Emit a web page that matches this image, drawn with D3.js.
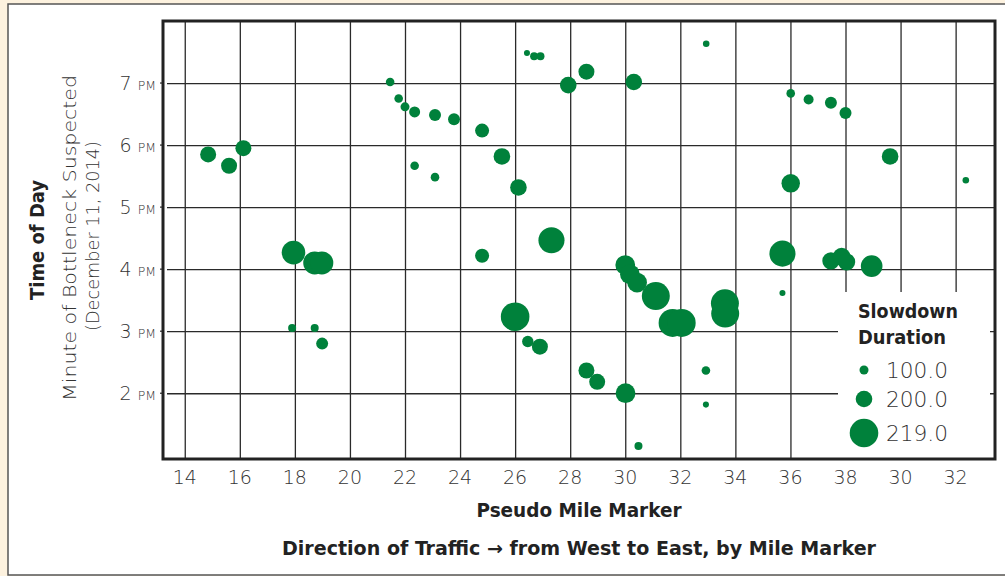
<!DOCTYPE html>
<html>
<head>
<meta charset="utf-8">
<script src="https://cdn.jsdelivr.net/npm/d3@7"></script>
<style>
  html, body { margin: 0; padding: 0; background: #fdf2df; }
  svg { display: block; }
</style>
</head>
<body>
<svg id="chart" width="1005" height="576"></svg>
<script>
// ---------- data ----------
const xTickValues = [14, 16, 18, 20, 22, 24, 26, 28, 30, 32, 34, 36, 38, 40, 42];
const xTickLabels = ["14", "16", "18", "20", "22", "24", "26", "28", "30", "32", "34", "36", "38", "30", "32"];
const yTickHours = [14, 15, 16, 17, 18, 19];
const yTickLabels = ["2", "3", "4", "5", "6", "7"];

// pseudo mile position (continuous along the axis), time of day, slowdown duration
const miles = [14.85, 15.61, 16.13, 21.46, 21.77, 22.00, 22.35, 23.09, 23.78, 24.80,
  25.52, 26.12, 22.35, 23.09, 26.43, 26.69, 26.92, 27.93, 28.59, 30.31,
  27.32, 32.94, 36.01, 36.66, 37.47, 38.00, 39.62, 36.01, 42.37, 17.95,
  18.72, 18.98, 17.90, 18.72, 18.99, 24.80, 26.00, 26.46, 26.90, 28.59,
  28.98, 30.01, 30.48, 30.00, 30.17, 30.43, 31.11, 31.72, 32.05, 33.62,
  33.63, 35.71, 37.47, 37.86, 38.04, 38.95, 35.71, 32.93, 32.93];
const times = ["17:51", "17:40", "17:57", "19:01", "18:45", "18:37", "18:32", "18:29", "18:25", "18:14",
  "17:49", "17:19", "17:40", "17:29", "19:29", "19:26", "19:26", "18:58", "19:11", "19:01",
  "16:28", "19:38", "18:50", "18:44", "18:41", "18:31", "17:49", "17:23", "17:26", "16:16",
  "16:06", "16:06", "15:03", "15:03", "14:48", "16:13", "15:14", "14:50", "14:45", "14:22",
  "14:11", "14:00", "13:09", "16:04", "15:55", "15:47", "15:34", "15:08", "15:08", "15:27",
  "15:17", "16:15", "16:08", "16:12", "16:07", "16:03", "15:37", "14:22", "13:49"];
const durations = [192, 192, 192, 95, 95, 100, 126, 139, 139, 166,
  200, 200, 95, 95, 61, 87, 87, 200, 192, 200,
  215, 68, 95, 113, 139, 139, 200, 203, 68, 211,
  210, 210, 87, 87, 139, 166, 219, 132, 192, 192,
  192, 205, 87, 205, 205, 205, 218, 218, 218, 218,
  218, 215, 201, 202, 201, 208, 61, 95, 61];

const legendValues = [100, 200, 219];
const legendLabels = ["100.0", "200.0", "219.0"];

// ---------- layout ----------
const W = 1005, H = 576;
const plot = { left: 163, right: 995, top: 21, bottom: 459 };
const green = "#00813b";
const gridColor = "#2a2a2a";
const lightFont = "'DejaVu Sans', Roboto, sans-serif";
const boldFont = "'DejaVu Sans Condensed', 'DejaVu Sans', sans-serif";

const svg = d3.select("#chart");

// background panel
svg.append("rect").attr("x", 0).attr("y", 0).attr("width", W).attr("height", H).attr("fill", "#fdf2df");
svg.append("rect").attr("x", 8).attr("y", 4).attr("width", W).attr("height", 571)
  .attr("fill", "#ffffff").attr("stroke", "#555").attr("stroke-width", 1.5);

const toHours = t => { const [h, m] = t.split(":").map(Number); return h + m / 60; };

const x = d3.scaleLinear().domain([13.21, 43.43]).range([plot.left, plot.right]);
const y = d3.scaleLinear().domain([12.94, 20.0]).range([plot.bottom, plot.top]);
const r = d3.scaleLinear().domain([100, 200, 219]).range([4.5, 8.3, 14.3]);

// gridlines via axes
const gx = svg.append("g").attr("transform", `translate(0,${plot.bottom})`)
  .call(d3.axisBottom(x).tickValues(xTickValues).tickSize(-(plot.bottom - plot.top)).tickFormat(""));
gx.select(".domain").remove();
gx.selectAll("line").attr("stroke", gridColor).attr("stroke-width", 1.3);

const gy = svg.append("g").attr("transform", `translate(${plot.left},0)`)
  .call(d3.axisLeft(y).tickValues(yTickHours).tickSize(-(plot.right - plot.left)).tickFormat(""));
gy.select(".domain").remove();
gy.selectAll("line").attr("stroke", gridColor).attr("stroke-width", 1.3).attr("x1", 4);

// small outward ticks on the left
svg.append("g").selectAll("line").data(yTickHours).join("line")
  .attr("x1", plot.left - 3).attr("x2", plot.left)
  .attr("y1", d => y(d)).attr("y2", d => y(d))
  .attr("stroke", gridColor).attr("stroke-width", 1.2);

// x tick labels
svg.append("g").selectAll("text").data(xTickValues).join("text")
  .attr("x", d => x(d)).attr("y", plot.bottom + 25)
  .attr("text-anchor", "middle")
  .attr("font-family", lightFont).attr("font-weight", 200)
  .attr("font-size", 19).attr("fill", "#333")
  .text((d, i) => xTickLabels[i]);

// y tick labels
const yl = svg.append("g").selectAll("text").data(yTickHours).join("text")
  .attr("x", 156).attr("y", d => y(d) + 7)
  .attr("text-anchor", "end")
  .attr("font-family", lightFont).attr("font-weight", 200)
  .attr("fill", "#333");
yl.append("tspan").attr("font-size", 19).text((d, i) => yTickLabels[i]);
yl.append("tspan").attr("font-size", 12.5).attr("dx", 6).text("PM");

// points
const pts = miles.map((m, i) => ({ m, t: toHours(times[i]), v: durations[i] }));
svg.append("g").selectAll("circle").data(pts).join("circle")
  .attr("cx", d => x(d.m)).attr("cy", d => y(d.t)).attr("r", d => r(d.v))
  .attr("fill", green);

// legend
const lg = svg.append("g");
lg.append("rect").attr("x", 838).attr("y", 292).attr("width", 152).attr("height", plot.bottom - 292)
  .attr("fill", "#fff");
lg.append("text").attr("x", 858).attr("y", 318)
  .attr("font-family", boldFont).attr("font-weight", "bold")
  .attr("font-size", 20).attr("fill", "#222")
  .attr("textLength", 100).attr("lengthAdjust", "spacingAndGlyphs").text("Slowdown");
lg.append("text").attr("x", 858).attr("y", 344)
  .attr("font-family", boldFont).attr("font-weight", "bold")
  .attr("font-size", 20).attr("fill", "#222")
  .attr("textLength", 88).attr("lengthAdjust", "spacingAndGlyphs").text("Duration");
const legendY = [370, 399, 433];
lg.selectAll("circle").data(legendValues).join("circle")
  .attr("cx", 864).attr("cy", (d, i) => legendY[i]).attr("r", d => r(d)).attr("fill", green);
lg.selectAll("text.lv").data(legendValues).join("text").attr("class", "lv")
  .attr("x", 886).attr("y", (d, i) => legendY[i] + 7.5)
  .attr("font-family", lightFont).attr("font-weight", 200)
  .attr("font-size", 20.5).attr("fill", "#333")
  .attr("textLength", 62).attr("lengthAdjust", "spacingAndGlyphs")
  .text((d, i) => legendLabels[i]);

// frame
svg.append("rect").attr("x", plot.left).attr("y", plot.top)
  .attr("width", plot.right - plot.left).attr("height", plot.bottom - plot.top)
  .attr("fill", "none").attr("stroke", "#222").attr("stroke-width", 3);

// axis titles
const cx = (plot.left + plot.right) / 2;
svg.append("text").attr("x", cx).attr("y", 517).attr("text-anchor", "middle")
  .attr("font-family", boldFont).attr("font-weight", "bold")
  .attr("font-size", 19).attr("fill", "#222")
  .attr("textLength", 205).attr("lengthAdjust", "spacingAndGlyphs")
  .text("Pseudo Mile Marker");
svg.append("text").attr("x", cx).attr("y", 555).attr("text-anchor", "middle")
  .attr("font-family", boldFont).attr("font-weight", "bold")
  .attr("font-size", 19).attr("fill", "#222")
  .attr("textLength", 594).attr("lengthAdjust", "spacingAndGlyphs")
  .text("Direction of Traffic \u2192 from West to East, by Mile Marker");

const cy = (plot.top + plot.bottom) / 2;
svg.append("text").attr("transform", `translate(44,${cy}) rotate(-90)`).attr("text-anchor", "middle")
  .attr("font-family", boldFont).attr("font-weight", "bold")
  .attr("font-size", 19).attr("fill", "#222")
  .attr("textLength", 120).attr("lengthAdjust", "spacingAndGlyphs")
  .text("Time of Day");
svg.append("text").attr("transform", `translate(76,${cy - 2}) rotate(-90)`).attr("text-anchor", "middle")
  .attr("font-family", lightFont).attr("font-weight", 200)
  .attr("font-size", 17.5).attr("fill", "#333")
  .attr("textLength", 326).attr("lengthAdjust", "spacingAndGlyphs")
  .text("Minute of Bottleneck Suspected");
svg.append("text").attr("transform", `translate(99,${cy - 4}) rotate(-90)`).attr("text-anchor", "middle")
  .attr("font-family", lightFont).attr("font-weight", 200)
  .attr("font-size", 17.5).attr("fill", "#333")
  .attr("textLength", 190).attr("lengthAdjust", "spacingAndGlyphs")
  .text("(December 11, 2014)");
</script>
</body>
</html>
